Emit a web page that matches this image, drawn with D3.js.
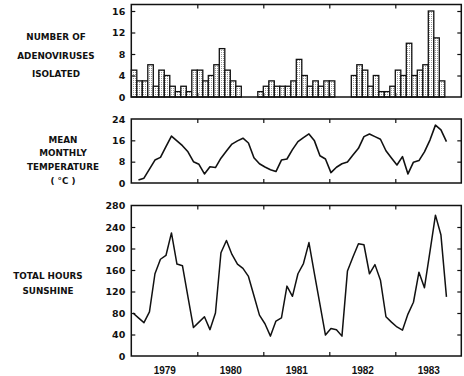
<!DOCTYPE html>
<html><head><meta charset="utf-8">
<script src="https://cdn.jsdelivr.net/npm/d3@7"></script>
<style>body{margin:0;background:#fff} svg{display:block}</style>
</head><body>
<svg id="c" width="464" height="376"></svg>
<script>
// ---- data ----
const years = ["1979","1980","1981","1982","1983"];
// monthly counts, Jan 1979 - Sep 1983 (null = no data)
const adenoviruses = [5,3,3,6,2,5,4,2,1,2,1,5,
                      5,3,4,6,9,5,3,2,null,null,null,1,
                      2,3,2,2,2,3,7,4,2,3,2,3,
                      3,null,null,null,4,6,5,2,4,1,1,2,
                      5,4,10,4,5,6,16,11,3];
// mean monthly temperature (deg C), Feb 1979 - Oct 1983
const temperature = [1.1,1.8,5.2,8.6,9.6,13.6,17.6,15.8,14,11.7,8,
                     7,3.4,6.1,5.8,9.3,12,14.6,15.8,16.8,15,9.5,7.2,
                     6,5,4.3,8.6,9,12.5,15.5,17,18.4,15.8,10.2,9,
                     3.9,5.9,7.2,7.9,10.5,13,17.4,18.4,17.4,16.4,12.1,9.4,
                     6.75,9.9,3.4,7.8,8.4,11.7,16.1,21.7,19.9,15.5];
// total hours of sunshine, Jan 1979 - Oct 1983
const sunshine = [80,71,62,82,153,180,187,229,171,168,110,53,
                  63,73,49,80,192,215,189,171,163,148,112,76,
                  60,37,65,71,130,111,153,172,211,153,96,39,
                  51,49,37,158,184,209,207,153,170,141,73,63,
                  54,48,78,100,156,127,194,262,225,110];
const adenoTicks = [0,4,8,12,16];
const tempTicks = [0,8,16,24];
const sunTicks = [0,40,80,120,160,200,240,280];
const yearBoundaries = [12,24,36,48];
const yearCentres = [6,18,30,42,54];
const temperatureStart = 1; // month index of first temperature value
const sunshineStart = 0;

// ---- layout ----
const svg = d3.select("#c");
const X0 = 131.3, X1 = 461.3;
const x = d3.scaleLinear().domain([0,60]).range([X0,X1]);
const ptOff = 0.3;

const panels = [
  {top:4.5, bottom:97, y:d3.scaleLinear([0,16],[97,11]), ticks:adenoTicks,
   title:["NUMBER OF","ADENOVIRUSES","ISOLATED"], tx:56, ty:[40,58.5,76.7]},
  {top:119, bottom:183, y:d3.scaleLinear([0,24],[183,119]), ticks:tempTicks,
   title:["MEAN","MONTHLY","TEMPERATURE","( \u00B0C )"], tx:63, ty:[142.7,156,170,184]},
  {top:205.5, bottom:356, y:d3.scaleLinear([0,280],[356,205.5]), ticks:sunTicks,
   title:["TOTAL HOURS","SUNSHINE"], tx:48, ty:[279,294]}
];

const defs = svg.append("defs");
const pat = defs.append("pattern").attr("id","stip").attr("width",2).attr("height",2)
  .attr("patternUnits","userSpaceOnUse");
pat.append("rect").attr("width",2).attr("height",2).attr("fill","#fff");
pat.append("rect").attr("x",1).attr("y",0).attr("width",1).attr("height",1).attr("fill","#9a9a9a");

const font = "'DejaVu Sans', sans-serif";

// bars
const p0 = panels[0];
svg.append("g").selectAll("rect").data(adenoviruses.map((v,i)=>({v,i})).filter(d=>d.v!=null))
  .join("rect")
  .attr("x", d=>x(d.i)).attr("width", d=>x(d.i+1)-x(d.i))
  .attr("y", d=>p0.y(d.v)).attr("height", d=>p0.y(0)-p0.y(d.v))
  .attr("fill","url(#stip)").attr("stroke","#111").attr("stroke-width",1.3);

// lines
const p1 = panels[1], p2 = panels[2];
svg.append("path").datum(temperature)
  .attr("d", d3.line().x((d,i)=>x(i+temperatureStart+ptOff)).y(d=>p1.y(d)))
  .attr("fill","none").attr("stroke","#111").attr("stroke-width",1.6).attr("stroke-linejoin","round");
svg.append("path").datum(sunshine)
  .attr("d", d3.line().x((d,i)=>x(i+sunshineStart+ptOff)).y(d=>p2.y(d)))
  .attr("fill","none").attr("stroke","#111").attr("stroke-width",1.5).attr("stroke-linejoin","round");

// axes and frames
panels.forEach((p,k)=>{
  const inner = p.ticks.filter(t=>p.y(t) > p.top+1 && p.y(t) < p.bottom-1);
  const gl = svg.append("g").attr("transform",`translate(${X0},0)`)
    .call(d3.axisLeft(p.y).tickValues(p.ticks).tickSizeInner(-4).tickSizeOuter(0).tickPadding(6));
  gl.select(".domain").remove();
  gl.selectAll(".tick line").filter(d=>!inner.includes(d)).remove();
  gl.selectAll(".tick text").attr("font-family",font).attr("font-weight","bold").attr("font-size","9.5px").attr("fill","#111");
  gl.selectAll(".tick line").attr("stroke","#111").attr("stroke-width",1.2);

  const gr = svg.append("g").attr("transform",`translate(${X1},0)`)
    .call(d3.axisRight(p.y).tickValues(inner).tickSizeInner(-4).tickSizeOuter(0).tickFormat(""));
  gr.select(".domain").remove();
  gr.selectAll(".tick line").attr("stroke","#111").attr("stroke-width",1.2);

  const gt = svg.append("g").attr("transform",`translate(0,${p.top})`)
    .call(d3.axisTop(x).tickValues(yearBoundaries).tickSizeInner(-4).tickSizeOuter(0).tickFormat(""));
  gt.select(".domain").remove();
  gt.selectAll(".tick line").attr("stroke","#111").attr("stroke-width",1.2);
  const gb = svg.append("g").attr("transform",`translate(0,${p.bottom})`)
    .call(d3.axisBottom(x).tickValues(yearBoundaries).tickSizeInner(-4).tickSizeOuter(0).tickFormat(""));
  gb.select(".domain").remove();
  gb.selectAll(".tick line").attr("stroke","#111").attr("stroke-width",1.2);

  svg.append("rect").attr("x",X0).attr("y",p.top).attr("width",X1-X0).attr("height",p.bottom-p.top)
    .attr("fill","none").attr("stroke","#111").attr("stroke-width",1.5);

  const t = svg.append("text").attr("font-family",font).attr("font-weight","bold")
    .attr("font-size","8.8px").attr("fill","#111").attr("text-anchor","middle");
  p.title.forEach((s,j)=>t.append("tspan").attr("x",p.tx).attr("y",p.ty[j]).text(s));
});

// year labels
const gy = svg.append("g").attr("transform",`translate(0,${p2.bottom})`)
  .call(d3.axisBottom(x).tickValues(yearCentres).tickSize(0).tickPadding(10.4).tickFormat((d,i)=>years[i]));
gy.select(".domain").remove();
gy.selectAll(".tick text").attr("font-family","'Liberation Sans', Arial, sans-serif").attr("font-weight","bold")
  .attr("font-size","10px").attr("fill","#111");
</script>
</body></html>
